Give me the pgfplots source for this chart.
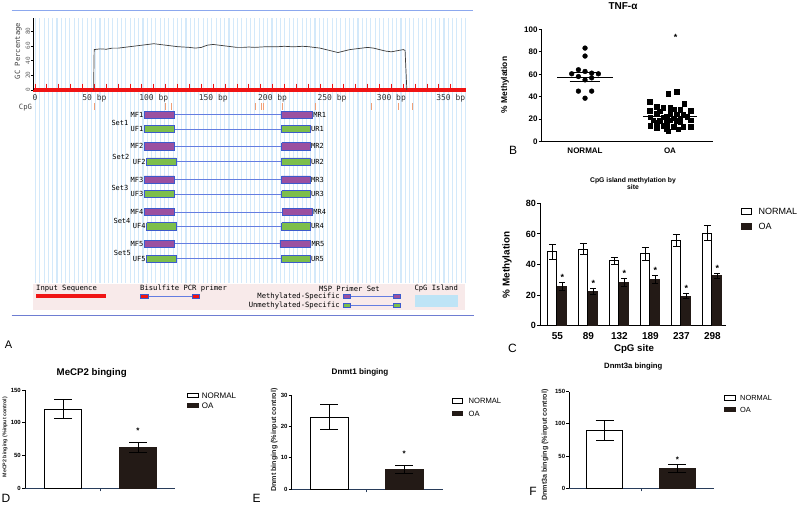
\documentclass[border=0pt]{standalone}
\usepackage{fontspec}
\setmainfont{Liberation Sans}
\setmonofont{DejaVu Sans Mono}
\usepackage{pgfplots}
\usepackage{pgfplotstable}
\pgfplotsset{compat=1.18}
\newcommand{\fs}[1]{\fontsize{#1}{#1}\selectfont}
\definecolor{stripe}{RGB}{212,233,250}
\definecolor{boxblue}{RGB}{60,90,205}
\definecolor{lineblue}{RGB}{100,125,225}
\definecolor{mpurple}{RGB}{155,80,160}
\definecolor{ugreen}{RGB}{125,190,75}
\definecolor{seqred}{RGB}{240,20,20}
\definecolor{cpgor}{RGB}{240,160,120}
\definecolor{legbg}{RGB}{248,234,234}
\definecolor{island}{RGB}{190,228,246}
\definecolor{topline}{RGB}{140,168,238}
\definecolor{botline}{RGB}{110,125,210}
\definecolor{gcline}{RGB}{60,60,60}
\definecolor{barblack}{RGB}{35,26,22}
\definecolor{xaxcol}{RGB}{40,60,90}

\newcommand{\pbox}[5]{\addplot[draw=boxblue, fill=#5, line width=0.7pt] coordinates {(#1,#3) (#2,#3) (#2,#4) (#1,#4) (#1,#3)};}
\newcommand{\pline}[3]{\addplot[draw=lineblue, line width=0.8pt] coordinates {(#1,#3) (#2,#3)};}
\newcommand{\plab}[4]{\node[font=\ttfamily\fs{7}, anchor=#4, inner sep=0.4pt] at (axis cs:#1,#2) {#3};}

\pgfplotstableread{
x y e
-0.16 48.4 4.8
0.84 50.1 3.7
1.84 42.3 2.2
2.84 47.1 4.3
3.84 55.4 3.9
4.84 60.4 4.8
}\cnormal
\pgfplotstableread{
x y e
0.16 25.5 2.8
1.16 22.2 1.8
2.16 28.3 2.7
3.16 30.3 2.4
4.16 19.4 1.7
5.16 32.5 1.7
}\coa

\pgfplotsset{
  prism/.style={scale only axis, anchor=south west, axis lines*=left,
    axis line style={line width=1pt,-}, tick align=outside, major tick length=3pt,
    tick style={line width=1pt, black}, /pgf/number format/assume math mode=true,
    clip=false, yticklabel style={inner sep=1pt}},
  errs/.style={error bars/.cd, y dir=both, y explicit,
    error bar style={line width=1pt, black},
    error mark options={rotate=90, mark size=#1, line width=1pt, black}},
}

\begin{document}
\begin{tikzpicture}
\useasboundingbox (0,0) rectangle (800pt,-507pt);
\fill[white] (0,0) rectangle (800pt,-507pt);

% ---------- Panel A background ----------
\begin{scope}[x=1pt,y=-1pt]
\foreach \i in {0,...,100} {\draw[stripe, line width=1.1pt] ({35.5+4.3*\i},18) -- ({35.5+4.3*\i},283);}
\fill[legbg] (33,284) rectangle (465,309.5);
\end{scope}

% ---------- Panel A primers ----------
\begin{axis}[at={(33pt,-283pt)}, anchor=south west, scale only axis,
  width=433pt, height=265pt, xmin=-1.7, xmax=362.8, ymin=18, ymax=283, y dir=reverse,
  hide axis, clip=false]
\addplot[only marks, mark=|, mark size=3.5pt, cpgor, mark options={line width=0.9pt}]
  coordinates {(49.9,106.7) (109.4,106.7) (115.0,106.7) (185.2,106.7) (190.8,106.7) (192.4,106.7) (208.5,106.7) (235.7,106.7) (283.4,106.7) (305.8,106.7) (317.6,106.7)};
% Set 1
\pline{117.3}{207.6}{114.7}\pbox{92.0}{117.3}{111.1}{118.3}{mpurple}\pbox{207.6}{233.4}{111.1}{118.3}{mpurple}
\pline{117.3}{207.6}{129.0}\pbox{92.0}{117.3}{125.4}{132.6}{ugreen}\pbox{207.6}{231.5}{125.4}{132.6}{ugreen}
% Set 2
\pline{117.3}{207.6}{146.3}\pbox{92.0}{117.3}{142.7}{149.9}{mpurple}\pbox{207.6}{231.5}{142.7}{149.9}{mpurple}
\pline{118.7}{207.6}{161.5}\pbox{94.0}{118.7}{157.9}{165.1}{ugreen}\pbox{207.6}{231.5}{157.9}{165.1}{ugreen}
% Set 3
\pline{117.3}{207.6}{179.5}\pbox{92.0}{117.3}{175.9}{183.1}{mpurple}\pbox{207.6}{231.5}{175.9}{183.1}{mpurple}
\pline{117.3}{207.6}{194.2}\pbox{92.0}{117.3}{190.6}{197.8}{ugreen}\pbox{207.6}{231.5}{190.6}{197.8}{ugreen}
% Set 4
\pline{117.3}{208.0}{212.0}\pbox{92.0}{117.3}{208.4}{215.6}{mpurple}\pbox{208.0}{233.4}{208.4}{215.6}{mpurple}
\pline{118.7}{207.6}{226.3}\pbox{94.0}{118.7}{222.7}{229.9}{ugreen}\pbox{207.6}{231.5}{222.7}{229.9}{ugreen}
% Set 5
\pline{117.3}{206.2}{243.8}\pbox{92.0}{117.3}{240.2}{247.4}{mpurple}\pbox{206.2}{232.0}{240.2}{247.4}{mpurple}
\pline{118.7}{207.6}{258.7}\pbox{94.0}{118.7}{255.1}{262.3}{ugreen}\pbox{207.6}{231.5}{255.1}{262.3}{ugreen}
\plab{91.6}{114.7}{MF1}{east}\plab{233.8}{114.7}{MR1}{west}
\plab{91.6}{129.0}{UF1}{east}\plab{231.9}{129.0}{UR1}{west}
\plab{91.6}{146.3}{MF2}{east}\plab{231.9}{146.3}{MR2}{west}
\plab{93.6}{161.5}{UF2}{east}\plab{231.9}{161.5}{UR2}{west}
\plab{91.6}{179.5}{MF3}{east}\plab{231.9}{179.5}{MR3}{west}
\plab{91.6}{194.2}{UF3}{east}\plab{231.9}{194.2}{UR3}{west}
\plab{91.6}{212.0}{MF4}{east}\plab{233.8}{212.0}{MR4}{west}
\plab{93.6}{226.3}{UF4}{east}\plab{231.9}{226.3}{UR4}{west}
\plab{91.6}{243.8}{MF5}{east}\plab{232.4}{243.8}{MR5}{west}
\plab{93.6}{258.7}{UF5}{east}\plab{231.9}{258.7}{UR5}{west}
\plab{71.5}{123.3}{Set1}{center}
\plab{72.3}{156.7}{Set2}{center}
\plab{71.5}{188.3}{Set3}{center}
\plab{73.2}{221.0}{Set4}{center}
\plab{73.5}{252.7}{Set5}{center}
\end{axis}

% ---------- Panel A GC content ----------
\begin{axis}[at={(33pt,-90pt)}, anchor=south west, scale only axis,
  width=433pt, height=72pt, xmin=-1.7, xmax=362.8, ymin=0, ymax=98,
  axis x line*=bottom, axis y line*=left,
  x axis line style={draw=seqred, line width=3.5pt, -},
  y axis line style={black, line width=0.6pt, -},
  xtick={0,50,...,350}, xticklabels={0,50 bp,100 bp,150 bp,200 bp,250 bp,300 bp,350 bp},
  x tick style={draw=none},
  xticklabel style={font=\ttfamily\fs{8}, anchor=center, yshift=-8pt, text=black!80},
  ytick={0,20,...,80}, ytick align=outside, major tick length=2pt,
  y tick style={black, line width=0.5pt},
  yticklabel style={rotate=90, anchor=south, font=\ttfamily\fs{6}, text=black!60, inner sep=0.5pt},
  /pgf/number format/assume math mode=true, clip=false]
\addplot[only marks, mark=|, mark size=2.6pt, seqred, mark options={line width=0.9pt}]
  coordinates {(0,5) (10,5) (20,5) (30,5) (40,5) (50,5) (60,5) (70,5) (80,5) (90,5) (100,5) (110,5) (120,5) (130,5) (140,5) (150,5) (160,5) (170,5) (180,5) (190,5) (200,5) (210,5) (220,5) (230,5) (240,5) (250,5) (260,5) (270,5) (280,5) (290,5) (300,5) (310,5) (320,5) (330,5) (340,5) (350,5)};
\addplot[gcline, line width=0.7pt] coordinates {
(49.3,0) (49.8,55) (55,56) (60,55.5) (65,57) (70,57) (75,58) (80,59) (85,60) (90,61) (95,62) (100,63)
(105,62) (110,61) (115,60) (120,59) (125,58.5) (130,58) (135,57) (140,58) (145,61) (150,62) (155,61)
(160,60) (165,59) (170,58) (175,58) (180,58.5) (185,58) (190,58.5) (195,59) (200,59) (205,59)
(210,59.5) (215,59) (220,59) (225,59.5) (230,59) (235,58) (240,57) (245,55) (250,53) (255,51)
(260,53) (265,55) (270,56) (275,57) (280,58) (285,57) (290,55) (295,53) (300,52) (305,53.5)
(310,55) (311.5,54) (313,0)};
\end{axis}

% ---------- Panel A annotations ----------
\begin{scope}[x=1pt,y=-1pt]
\draw[topline, line width=0.9pt] (11.7,10) -- (473.3,10);
\draw[botline, line width=0.9pt] (11.7,315) -- (474,315);
\node[rotate=90, font=\ttfamily\fs{7.2}, text=black!75] at (18.3,51) {GC Percentage};
\node[font=\ttfamily\fs{7.2}, text=black!75] at (25.5,108) {CpG};
\node[font=\ttfamily\fs{7.2}, anchor=west, inner sep=0] at (36,288.6) {Input Sequence};
\fill[seqred] (36,294) rectangle (106,298.3);
\node[font=\ttfamily\fs{7.2}, anchor=west, inner sep=0] at (140,288.6) {Bisulfite PCR primer};
\draw[lineblue, line width=0.8pt] (148.3,296.3) -- (192.3,296.3);
\draw[boxblue, fill=seqred, line width=0.6pt] (140.7,294.3) rectangle (148.3,298.3);
\draw[boxblue, fill=seqred, line width=0.6pt] (192.3,294.3) rectangle (199.3,298.3);
\node[font=\ttfamily\fs{7.2}, anchor=east, inner sep=0] at (380,288.6) {MSP Primer Set};
\node[font=\ttfamily\fs{7.2}, anchor=east, inner sep=0] at (340,296.6) {Methylated-Specific};
\node[font=\ttfamily\fs{7.2}, anchor=east, inner sep=0] at (340,305.2) {Unmethylated-Specific};
\draw[lineblue, line width=0.8pt] (350.7,296.2) -- (393.3,296.2);
\draw[boxblue, fill=mpurple, line width=0.6pt] (343.3,294.2) rectangle (350.7,298.2);
\draw[boxblue, fill=mpurple, line width=0.6pt] (393.3,294.2) rectangle (400.7,298.2);
\draw[lineblue, line width=0.8pt] (350.7,305) -- (393.3,305);
\draw[boxblue, fill=ugreen, line width=0.6pt] (343.3,302.9) rectangle (350.7,307.1);
\draw[boxblue, fill=ugreen, line width=0.6pt] (393.3,302.9) rectangle (400.7,307.1);
\node[font=\ttfamily\fs{7.2}, anchor=west, inner sep=0] at (414.3,288.6) {CpG Island};
\fill[island] (415,295) rectangle (458.3,306.7);
\node[font=\fs{11}] at (8.5,345) {A};
\end{scope}

% ---------- Panel B ----------
\begin{axis}[prism, at={(541.7pt,-141.7pt)}, width=171.3pt, height=112.4pt,
  xmin=-0.51, xmax=1.506, ymin=0, ymax=100, ytick={0,20,...,100},
  xtick={0,1}, xticklabels={NORMAL,OA}, x tick style={draw=none},
  yticklabel style={font=\bfseries\fs{8}}, xticklabel style={font=\bfseries\fs{8}}]
\addplot[only marks, mark=*, mark size=2.4pt, black] coordinates {
(0,83.3) (0,76.2) (-0.078,64) (0,62.5) (0.078,61) (-0.157,60.4) (0.157,60.4)
(-0.078,58) (0.078,56.8) (0,55) (-0.078,45) (0.078,45) (0,38.7)};
\addplot[only marks, mark=square*, mark size=2.3pt, black] coordinates {
(0.98,42.6) (1.08,44.6) (0.76,35.7) (1.165,33.6) (0.843,31) (0.92,30) (1.0,30) (1.04,29)
(0.76,27.7) (1.243,27.7) (0.88,27) (1.12,28.5) (0.843,24.7) (1.0,24.7) (1.08,24.5) (1.157,24.2)
(0.765,21.7) (0.92,21.7) (0.96,22.5) (1.04,21) (1.118,21) (1.2,22) (0.804,19.3) (0.882,18.8)
(1.0,19.3) (1.08,18.8) (1.243,19.3) (0.843,17.3) (0.96,17) (1.118,17.3) (0.765,14.3) (0.92,14.3)
(1.04,13.4) (1.157,13.4) (1.243,13.4) (0.843,12.2) (0.96,11.6) (1.098,11.3) (0.98,9.2)};
\addplot[black, line width=1pt] coordinates {(-0.33,57.5) (0.33,57.5)};
\addplot[black, line width=1pt] coordinates {(-0.18,53.8) (0.18,53.8)};
\addplot[black, line width=1pt] coordinates {(-0.18,61.2) (0.18,61.2)};
\addplot[black, line width=1pt] coordinates {(0.68,22.5) (1.32,22.5)};
\node[font=\bfseries\fs{9}] at (axis cs:1.067,93) {*};
\end{axis}

% ---------- Panel C ----------
\begin{axis}[prism, at={(540pt,-325.7pt)}, width=186pt, height=122.4pt,
  xmin=-0.56, xmax=5.44, ymin=0, ymax=80, ytick={0,20,...,80},
  xtick={0,...,5}, xticklabels={55,89,132,189,237,298}, x tick style={draw=none},
  yticklabel style={font=\bfseries\fs{9}}, xticklabel style={font=\bfseries\fs{10}}]
\addplot[ybar, bar width=0.29, bar shift=0pt, fill=white, draw=black, line width=1pt, errs=3.5pt]
  table[x=x, y=y, y error=e] {\cnormal};
\addplot[ybar, bar width=0.29, bar shift=0pt, fill=barblack, draw=barblack, line width=1pt, errs=3pt]
  table[x=x, y=y, y error=e] {\coa};
\node[font=\bfseries\fs{9}] at (axis cs:0.16,31.8) {*};
\node[font=\bfseries\fs{9}] at (axis cs:1.16,27.5) {*};
\node[font=\bfseries\fs{9}] at (axis cs:2.16,34.5) {*};
\node[font=\bfseries\fs{9}] at (axis cs:3.16,36.2) {*};
\node[font=\bfseries\fs{9}] at (axis cs:4.16,24.6) {*};
\node[font=\bfseries\fs{9}] at (axis cs:5.16,37.7) {*};
\end{axis}

% ---------- Panel D ----------
\begin{axis}[prism, at={(25pt,-488.3pt)}, width=150pt, height=98.3pt,
  xmin=-0.507, xmax=1.493, ymin=0, ymax=150, ytick={0,50,100,150},
  x axis line style={xaxcol}, xtick={0.5}, xticklabels={}, x tick style={xaxcol, line width=0.8pt},
  yticklabel style={font=\bfseries\fs{6}}]
\addplot[ybar, bar width=0.5, bar shift=0pt, fill=white, draw=black, line width=1pt, errs=9pt]
  coordinates {(0,121) +- (0,15)};
\addplot[ybar, bar width=0.5, bar shift=0pt, fill=barblack, draw=barblack, line width=1pt, errs=9pt]
  coordinates {(1,62) +- (0,7.5)};
\node[font=\bfseries\fs{8}] at (axis cs:1,88) {*};
\end{axis}

% ---------- Panel E ----------
\begin{axis}[prism, at={(291.7pt,-489.3pt)}, width=151.3pt, height=94.3pt,
  xmin=-0.5, xmax=1.517, ymin=0, ymax=30, ytick={0,10,20,30},
  x axis line style={xaxcol}, xtick={0.5}, xticklabels={}, x tick style={xaxcol, line width=0.8pt},
  yticklabel style={font=\bfseries\fs{6}}]
\addplot[ybar, bar width=0.51, bar shift=0pt, fill=white, draw=black, line width=1pt, errs=9pt]
  coordinates {(0,23) +- (0,4)};
\addplot[ybar, bar width=0.51, bar shift=0pt, fill=barblack, draw=barblack, line width=1pt, errs=9pt]
  coordinates {(1,6.2) +- (0,1.3)};
\node[font=\bfseries\fs{8}] at (axis cs:1,11.2) {*};
\end{axis}

% ---------- Panel F ----------
\begin{axis}[prism, at={(569.3pt,-488.3pt)}, width=144.7pt, height=96.6pt,
  xmin=-0.488, xmax=1.505, ymin=0, ymax=150, ytick={0,50,100,150},
  x axis line style={xaxcol}, xtick={0.5}, xticklabels={}, x tick style={xaxcol, line width=0.8pt},
  yticklabel style={font=\bfseries\fs{6}}]
\addplot[ybar, bar width=0.5, bar shift=0pt, fill=white, draw=black, line width=1pt, errs=9pt]
  coordinates {(0,90.5) +- (0,15.5)};
\addplot[ybar, bar width=0.5, bar shift=0pt, fill=barblack, draw=barblack, line width=1pt, errs=9pt]
  coordinates {(1,31) +- (0,6.5)};
\node[font=\bfseries\fs{8}] at (axis cs:1,44) {*};
\end{axis}

% ---------- texts for B-F ----------
\begin{scope}[x=1pt,y=-1pt]
% B
\node[font=\bfseries\fs{10}] at (623,6) {TNF-α};
\node[rotate=90, font=\bfseries\fs{8.4}] at (505,85) {\% Methylation};
\node[font=\fs{12}] at (513,150) {B};
% C
\node[font=\bfseries\fs{6.8}, align=center] at (633,183.5) {CpG island methylation by\\[-0.5pt]site};
\node[rotate=90, font=\bfseries\fs{9.9}] at (507,265) {\% Methylation};
\node[font=\bfseries\fs{9.7}] at (634,349) {CpG site};
\node[font=\fs{12}] at (512.5,348) {C};
\draw[black, line width=1pt, fill=white] (741.3,208) rectangle (751.5,214);
\fill[barblack] (740.8,222.5) rectangle (752,229.5);
\node[font=\fs{9}, anchor=west, inner sep=0] at (758.5,211.3) {NORMAL};
\node[font=\fs{9}, anchor=west, inner sep=0] at (758.5,226.3) {OA};
% D
\node[font=\bfseries\fs{9.7}] at (91.7,373.3) {MeCP2 binging};
\node[rotate=90, font=\bfseries\fs{5.3}, text=black!85] at (5,437) {MeCP2 binging (\%input control)};
\node[font=\fs{12}] at (6,498) {D};
\draw[black, line width=1pt, fill=white] (187.2,393) rectangle (198.8,397.4);
\fill[barblack] (186.7,402.7) rectangle (199.3,408.3);
\node[font=\fs{8}, anchor=west, inner sep=0] at (201.7,395.3) {NORMAL};
\node[font=\fs{8}, anchor=west, inner sep=0] at (201.7,405.6) {OA};
% E
\node[font=\bfseries\fs{8.1}] at (360,372.7) {Dnmt1 binging};
\node[rotate=90, font=\bfseries\fs{7.2}, text=black!85] at (274.3,440) {Dnmt binging (\%input control)};
\node[font=\fs{12}] at (256.5,498) {E};
\draw[black, line width=1pt, fill=white] (452.2,398.4) rectangle (462.8,403.6);
\fill[barblack] (451.7,410.7) rectangle (463.3,416.3);
\node[font=\fs{7.6}, anchor=west, inner sep=0] at (468.5,401) {NORMAL};
\node[font=\fs{7.6}, anchor=west, inner sep=0] at (468.5,413.5) {OA};
% F
\node[font=\bfseries\fs{7.7}] at (633.3,366.7) {Dnmt3a binging};
\node[rotate=90, font=\bfseries\fs{7.2}, text=black!85] at (545,445) {Dnmt3a binging (\%input control)};
\node[font=\fs{12}] at (533,491) {F};
\draw[black, line width=1pt, fill=white] (724.5,395.3) rectangle (735.5,400);
\fill[barblack] (724,406.7) rectangle (736,412);
\node[font=\fs{7.4}, anchor=west, inner sep=0] at (740,397.7) {NORMAL};
\node[font=\fs{7.4}, anchor=west, inner sep=0] at (740,409.5) {OA};
\end{scope}
\end{tikzpicture}
\end{document}
